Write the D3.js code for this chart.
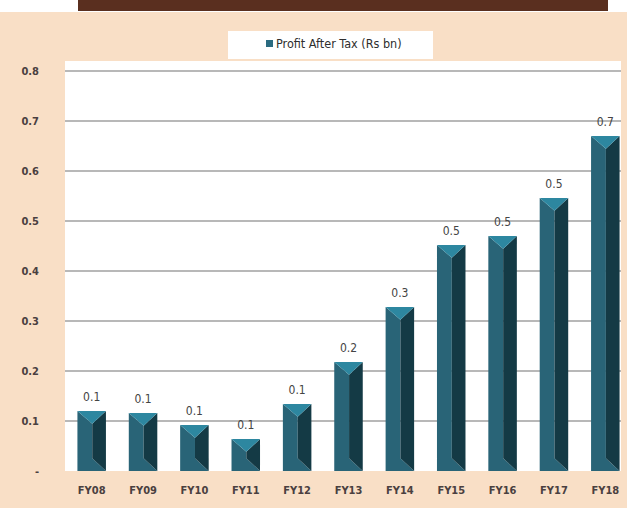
<!DOCTYPE html>
<html>
<head>
<meta charset="utf-8">
<script src="https://cdn.jsdelivr.net/npm/d3@7"></script>
<style>
  html, body { margin: 0; padding: 0; background: #ffffff; }
  svg { display: block; }
  text { font-family: "DejaVu Sans Condensed", "Liberation Sans Narrow", "Roboto", sans-serif; }
</style>
</head>
<body>
<svg id="chart" width="627" height="508"></svg>
<script>
// Profit After Tax by fiscal year (Rs bn)
const categories = ["FY08", "FY09", "FY10", "FY11", "FY12", "FY13", "FY14", "FY15", "FY16", "FY17", "FY18"];
const profitAfterTax = [0.120, 0.116, 0.092, 0.064, 0.134, 0.218, 0.328, 0.452, 0.470, 0.546, 0.670];
const yTicks = [0, 0.1, 0.2, 0.3, 0.4, 0.5, 0.6, 0.7, 0.8];
const seriesName = "Profit After Tax (Rs bn)";

const W = 627, H = 508;
const svg = d3.select("#chart");

// page frame: brown header band over a beige panel
svg.append("rect").attr("x", 0).attr("y", 12).attr("width", W).attr("height", H - 12).attr("fill", "#f9dfc6");
svg.append("rect").attr("x", 78).attr("y", 0).attr("width", 530).attr("height", 11).attr("fill", "#5a2f1f");

// plot area
const plot = { left: 65, right: 621, top: 61, bottom: 471 };
svg.append("rect")
  .attr("x", plot.left).attr("y", plot.top)
  .attr("width", plot.right - plot.left).attr("height", plot.bottom - plot.top)
  .attr("fill", "#ffffff");

const x = d3.scaleBand()
  .domain(categories)
  .range([66, 631])
  .paddingInner(0.445)
  .paddingOuter(0.2225);

const y = d3.scaleLinear().domain([0, 0.8]).range([471, 71]);

// gridlines
svg.append("g").selectAll("line")
  .data(yTicks.filter(d => d > 0))
  .join("line")
  .attr("x1", plot.left).attr("x2", plot.right)
  .attr("y1", d => y(d)).attr("y2", d => y(d))
  .attr("stroke", "#a0a0a0").attr("stroke-width", 1.3);

// y axis labels
const yAxis = d3.axisLeft(y)
  .tickValues(yTicks)
  .tickSize(0)
  .tickPadding(0)
  .tickFormat(d => d === 0 ? "-" : d3.format(".1f")(d));
const gy = svg.append("g").attr("transform", "translate(39,0)").call(yAxis);
gy.select(".domain").remove();
gy.selectAll("text")
  .attr("fill", "#4a4040")
  .style("font-size", "11px")
  .style("font-weight", "bold")
  .attr("dy", "0.35em");

// x axis labels
const xAxis = d3.axisBottom(x).tickSize(0).tickPadding(0);
const gx = svg.append("g").attr("transform", "translate(0,486)").call(xAxis);
gx.select(".domain").remove();
gx.selectAll("text")
  .attr("fill", "#4a4040")
  .style("font-size", "11px")
  .style("font-weight", "bold")
  .attr("dy", "0.71em");

// bevelled bars: left face (with base), right face, top facet
const bars = svg.append("g").selectAll("g")
  .data(categories.map((c, i) => ({ c, v: profitAfterTax[i] })))
  .join("g");

function facets(d) {
  const x0 = x(d.c), x1 = x0 + x.bandwidth();
  const yt = y(d.v), yb = y(0);
  const xm = x0 + x.bandwidth() * 0.52;
  const dep = Math.min(x.bandwidth() * 0.45, (yb - yt) / 2);
  return [
    { fill: "#296477", pts: [[x0, yt], [xm, yt + dep], [xm, yb - dep], [x1, yb], [x0, yb]] },
    { fill: "#143a45", pts: [[x1, yt], [x1, yb], [xm, yb - dep], [xm, yt + dep]] },
    { fill: "#2d87a0", pts: [[x0, yt], [x1, yt], [xm, yt + dep]] }
  ];
}

bars.selectAll("path")
  .data(d => facets(d))
  .join("path")
  .attr("d", f => "M" + f.pts.map(p => p.join(",")).join("L") + "Z")
  .attr("fill", f => f.fill);

// value labels
svg.append("g").selectAll("text")
  .data(categories.map((c, i) => ({ c, v: profitAfterTax[i] })))
  .join("text")
  .attr("x", d => x(d.c) + x.bandwidth() / 2)
  .attr("y", d => y(d.v) - 10)
  .attr("text-anchor", "middle")
  .attr("fill", "#444444")
  .style("font-size", "12px")
  .text(d => d3.format(".1f")(d.v));

// legend
const lg = svg.append("g");
lg.append("rect").attr("x", 228).attr("y", 31).attr("width", 205).attr("height", 28).attr("fill", "#ffffff");
lg.append("rect").attr("x", 266).attr("y", 40).attr("width", 7).attr("height", 7).attr("fill", "#2a6b80");
lg.append("text")
  .attr("x", 276).attr("y", 43.5)
  .attr("dy", "0.35em")
  .attr("fill", "#2e2e2e")
  .style("font-size", "12.5px")
  .text(seriesName);
</script>
</body>
</html>
